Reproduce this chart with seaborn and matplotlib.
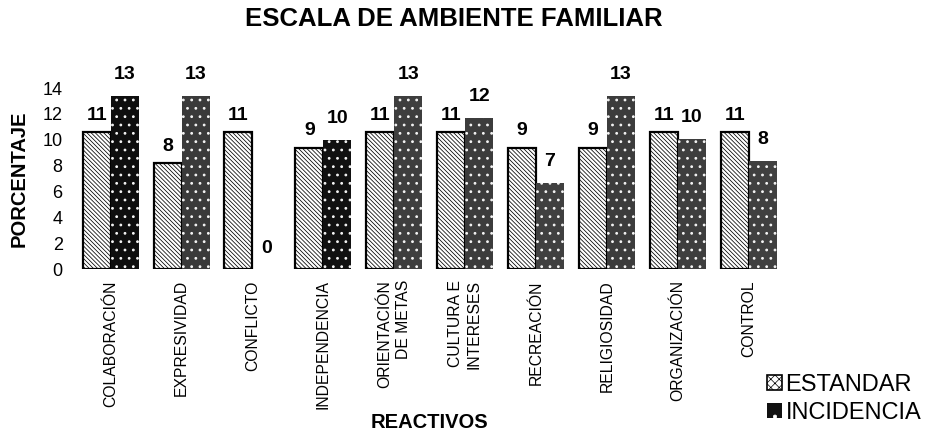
import matplotlib
matplotlib.use("Agg")
import matplotlib.pyplot as plt
from matplotlib.patches import Patch
import pandas as pd
import seaborn as sns

# Escala de Ambiente Familiar: porcentajes por reactivo
reactivos = ["COLABORACIÓN", "EXPRESIVIDAD", "CONFLICTO", "INDEPENDENCIA",
             "ORIENTACIÓN\nDE METAS", "CULTURA E\nINTERESES", "RECREACIÓN",
             "RELIGIOSIDAD", "ORGANIZACIÓN", "CONTROL"]
estandar = [10.6, 8.2, 10.6, 9.4, 10.6, 10.6, 9.4, 9.4, 10.6, 10.6]
incidencia = [13.4, 13.4, 0.0, 10.0, 13.4, 11.7, 6.7, 13.4, 10.1, 8.4]
series = ["ESTANDAR", "INCIDENCIA"]
y_ticks = [0, 2, 4, 6, 8, 10, 12, 14]

df = pd.DataFrame({
    "reactivo": reactivos * 2,
    "porcentaje": estandar + incidencia,
    "serie": [series[0]] * len(reactivos) + [series[1]] * len(reactivos),
})

sns.set_style("white")
plt.rcParams["font.family"] = ["Liberation Sans", "DejaVu Sans"]
plt.rcParams["hatch.linewidth"] = 0.5
for key in ("text.color", "axes.labelcolor", "xtick.color", "ytick.color",
            "xtick.labelcolor", "ytick.labelcolor"):
    plt.rcParams[key] = "black"

fig = plt.figure(figsize=(9.29, 4.32), dpi=100)
ax = fig.add_axes([0.081, 0.377, 0.763, 0.419])

sns.barplot(data=df, x="reactivo", y="porcentaje", hue="serie",
            order=reactivos, hue_order=series, width=0.79, gap=0,
            palette=["white", "#3a3a3a"], legend=False, ax=ax)

# tonos del relleno oscuro de cada barra de incidencia
tonos_incid = ["#0e0e0e", "#3a3a3a", "#3a3a3a", "#111111", "#3e3e3e",
               "#3c3c3c", "#404040", "#3c3c3c", "#3e3e3e", "#404040"]


def grosor_trama(patch, w):
    if hasattr(patch, "set_hatch_linewidth"):
        patch.set_hatch_linewidth(w)
    else:
        patch._hatch_linewidth = w


for p in ax.containers[0]:
    p.set_facecolor("white")
    p.set_edgecolor("black")
    p.set_linewidth(1.6)
    p.set_hatch("\\\\\\\\\\\\\\\\")
    grosor_trama(p, 0.55)
for p, c in zip(ax.containers[1], tonos_incid):
    p.set_facecolor(c)
    p.set_edgecolor("#f4f4f4")
    p.set_linewidth(0)
    p.set_hatch("..")
    grosor_trama(p, 0.8)

ax.bar_label(ax.containers[0], labels=[f"{v:.0f}" for v in estandar],
             padding=6, fontsize=14, fontweight="bold", color="black")
ax.bar_label(ax.containers[1], labels=[f"{v:.0f}" for v in incidencia],
             padding=9, fontsize=14, fontweight="bold", color="black")

ax.set_ylim(0, 14)
ax.set_yticks(y_ticks)
ax.set_yticklabels([str(t) for t in y_ticks], fontsize=13)
ax.tick_params(axis="both", length=0, colors="black")
ax.tick_params(axis="y", pad=9)
ax.tick_params(axis="x", pad=8)
for lbl in ax.get_xticklabels():
    lbl.set_rotation(90)
    lbl.set_fontsize(11.3)
    lbl.set_ha("center")
    lbl.set_va("top")
    lbl.set_multialignment("right")
    lbl.set_linespacing(1.3)

ax.set_ylabel("PORCENTAJE", fontsize=14.5, fontweight="bold", labelpad=10,
              color="black")
ax.set_xlabel("")
fig.text(0.462, 0.023, "REACTIVOS", fontsize=14.5, fontweight="bold",
         ha="center", va="center", color="black")
fig.text(0.488, 0.955, "ESCALA DE AMBIENTE FAMILIAR", fontsize=18.5,
         fontweight="bold", ha="center", va="center", color="black")
sns.despine(ax=ax, left=True, bottom=True)

leg_est = Patch(facecolor="white", edgecolor="black", hatch="xxxx", linewidth=1.2)
leg_inc = Patch(facecolor="#111111", edgecolor="white", hatch=".", linewidth=0)
fig.legend([leg_est, leg_inc], series, loc="upper left",
           bbox_to_anchor=(0.826, 0.135), frameon=False, fontsize=17,
           handlelength=0.62, handleheight=0.62, handletextpad=0.15,
           labelspacing=0.25, borderpad=0, borderaxespad=0,
           labelcolor="black")

fig.savefig("out.png", dpi=100)
